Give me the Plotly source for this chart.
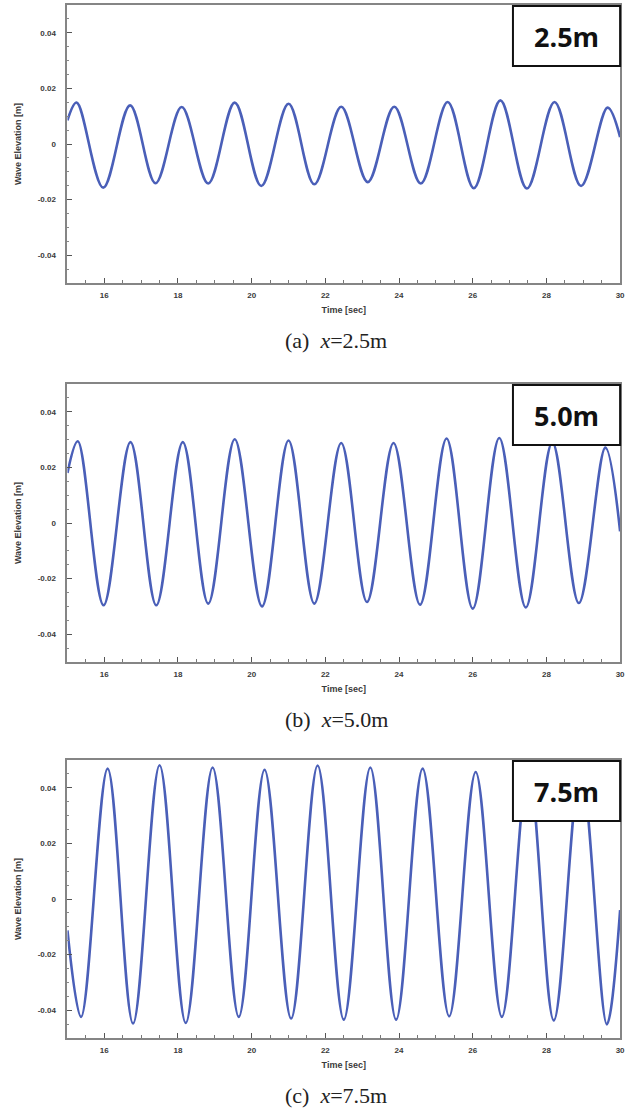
import plotly.graph_objects as go

# Wave elevation time histories at three gauge positions (crest / trough samples)
t_25 = [15.0, 15.25, 15.97, 16.70, 17.39, 18.10, 18.82, 19.54, 20.26, 21.00, 21.70,
        22.43, 23.15, 23.87, 24.59, 25.32, 26.03, 26.75, 27.47, 28.22, 28.94, 29.66, 30.0]
eta_25 = [0.0085, 0.0149, -0.0157, 0.0139, -0.0141, 0.0133, -0.0142, 0.0149, -0.0151, 0.0145, -0.0145,
          0.0134, -0.0137, 0.0134, -0.0142, 0.0151, -0.0159, 0.0157, -0.0160, 0.0151, -0.0151, 0.0131, 0.0025]

t_50 = [15.0, 15.28, 15.98, 16.71, 17.41, 18.13, 18.82, 19.54, 20.28, 21.00, 21.70,
        22.43, 23.13, 23.85, 24.57, 25.29, 26.00, 26.72, 27.44, 28.16, 28.88, 29.60, 30.0]
eta_50 = [0.018, 0.0294, -0.0296, 0.0291, -0.0296, 0.0291, -0.0290, 0.0301, -0.0300, 0.0297, -0.0290,
          0.0288, -0.0284, 0.0288, -0.0294, 0.0304, -0.0308, 0.0306, -0.0304, 0.0290, -0.0288, 0.0271, -0.003]

t_75 = [15.0, 15.37, 16.09, 16.78, 17.50, 18.21, 18.94, 19.65, 20.35, 21.07, 21.79,
        22.50, 23.22, 23.92, 24.64, 25.36, 26.08, 26.79, 27.51, 28.20, 28.93, 29.64, 30.0]
eta_75 = [-0.0113, -0.0424, 0.0469, -0.0448, 0.0481, -0.0446, 0.0473, -0.0424, 0.0465, -0.0430, 0.0480,
          -0.0434, 0.0473, -0.0434, 0.0469, -0.0422, 0.0457, -0.0424, 0.0470, -0.0437, 0.0470, -0.0451, -0.004]

gauge_tags = ["2.5m", "5.0m", "7.5m"]
captions = ["(a)  <i>x</i>=2.5m", "(b)  <i>x</i>=5.0m", "(c)  <i>x</i>=7.5m"]
series = [(t_25, eta_25), (t_50, eta_50), (t_75, eta_75)]

W, H = 639, 1117
# plot-area pixel boxes (top, bottom) for each panel
panel_px = [(5, 283), (384, 662), (760, 1038)]
x_left, x_right = 68, 625

LINE = "#4a5fb8"
FRAME = "#858585"
TICKFONT = dict(family="Liberation Sans, Arial", size=8, color="#3a3a3a", weight="bold")
TITLEFONT = dict(family="Liberation Sans, Arial", size=9, color="#3a3a3a", weight="bold")

fig = go.Figure()
layout = dict(
    width=W, height=H, margin=dict(l=0, r=0, t=0, b=0),
    paper_bgcolor="white", plot_bgcolor="white", showlegend=False,
)
annotations = []
shapes = []

for i, ((t, eta), tag, cap, (ptop, pbot)) in enumerate(zip(series, gauge_tags, captions, panel_px)):
    n = i + 1
    xa = "x" if n == 1 else f"x{n}"
    ya = "y" if n == 1 else f"y{n}"
    fig.add_trace(go.Scatter(
        x=t, y=eta, mode="lines", xaxis=xa, yaxis=ya,
        line=dict(color=LINE, width=2.6, shape="spline", smoothing=1.0),
        hoverinfo="skip",
    ))
    dom_y = [1 - pbot / H, 1 - ptop / H]
    layout["xaxis" if n == 1 else f"xaxis{n}"] = dict(
        domain=[x_left / W, x_right / W], anchor=ya, range=[15, 30],
        tick0=0, dtick=2, ticks="inside", ticklen=5, tickwidth=1, tickcolor="#555555",
        minor=dict(dtick=0.5, tick0=0, ticks="inside", ticklen=3, tickcolor="#777777"),
        showline=True, mirror=True, linecolor=FRAME, linewidth=2,
        showgrid=False, zeroline=False, tickfont=TICKFONT, ticklabelstandoff=3,
        title=dict(text="Time [sec]", font=TITLEFONT, standoff=8),
    )
    layout["yaxis" if n == 1 else f"yaxis{n}"] = dict(
        domain=dom_y, anchor=xa, range=[-0.05, 0.05],
        tickvals=[-0.04, -0.02, 0, 0.02, 0.04], ticktext=["-0.04", "-0.02", "0", "0.02", "0.04"],
        ticks="inside", ticklen=5, tickwidth=1, tickcolor="#555555",
        minor=dict(dtick=0.005, tick0=0, ticks="inside", ticklen=2, tickcolor="#888888"),
        showline=True, mirror=True, linecolor=FRAME, linewidth=2,
        showgrid=False, zeroline=False, tickfont=TICKFONT, ticklabelstandoff=8,
        title=dict(text="Wave Elevation [m]", font=TITLEFONT, standoff=14),
    )
    # gauge label box in the top-right corner
    bx0, bx1 = 517, 625
    by0, by1 = ptop + 1, ptop + 61
    shapes.append(dict(type="rect", xref="paper", yref="paper",
                       x0=bx0 / W, x1=bx1 / W, y0=1 - by1 / H, y1=1 - by0 / H,
                       line=dict(color="#111111", width=2), fillcolor="white", layer="above"))
    annotations.append(dict(xref="paper", yref="paper", x=(bx0 + bx1) / 2 / W, y=1 - (by0 + by1) / 2 / H,
                            text=f"<b>{tag}</b>", showarrow=False, xanchor="center", yanchor="middle",
                            font=dict(family="Open Sans, Liberation Sans", size=27, color="#111111")))
    # sub-figure caption
    annotations.append(dict(xref="paper", yref="paper", x=(x_left + x_right) / 2 / W - 0.012,
                            y=1 - (pbot + 57) / H, text=cap, showarrow=False,
                            xanchor="center", yanchor="middle",
                            font=dict(family="Liberation Serif, Times New Roman", size=22, color="#222222")))

layout["annotations"] = annotations
layout["shapes"] = shapes
fig.update_layout(**layout)
fig.write_html("out.html")
